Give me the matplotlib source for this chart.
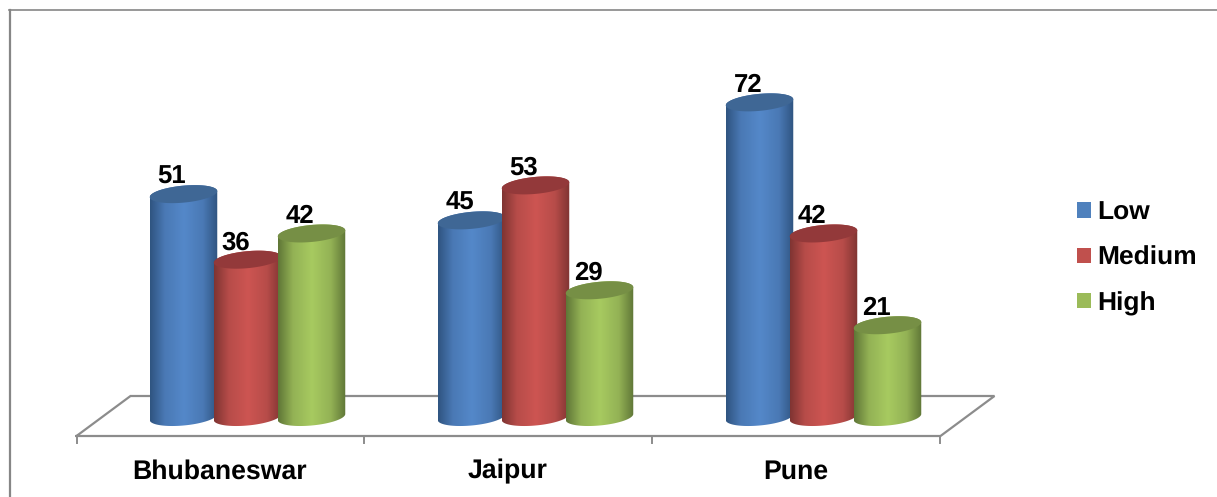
import matplotlib
matplotlib.use('Agg')
import matplotlib.pyplot as plt
import numpy as np
from matplotlib.colors import LinearSegmentedColormap
from matplotlib.patches import PathPatch, Patch
from matplotlib.path import Path
from matplotlib.lines import Line2D

plt.rcParams['font.family'] = ['Liberation Sans', 'DejaVu Sans']
plt.rcParams['text.hinting'] = 'no_hinting'

cities = ['Bhubaneswar', 'Jaipur', 'Pune']
series_names = ['Low', 'Medium', 'High']
low = [51, 45, 72]
medium = [36, 53, 42]
high = [42, 29, 21]

# edge shade, middle shade, lid shade, legend colour
shades = {
    'Low': ('#2f5480', '#5488c9', '#3f6795', '#4f81bd'),
    'Medium': ('#7f3432', '#cd5552', '#93393a', '#c0504d'),
    'High': ('#5f7637', '#a7ca60', '#768f45', '#9bbb59'),
}

W, H = 1217, 497
PX_GROUP = 288.0   # pixels per category
PX_VALUE = 4.37    # pixels per value unit
BAR_STEP = 64.0 / PX_GROUP
BAR_W = 67.5 / PX_GROUP
RY = 8.5 / PX_VALUE
TILT = 3.0 / PX_VALUE   # the lids lean up to the right
DEPTH_X = 54.0 / PX_GROUP
FLOOR_FRONT = -19.0 / PX_VALUE
FLOOR_BACK = 21.0 / PX_VALUE

fig = plt.figure(figsize=(W / 100, H / 100), dpi=100)
ax = fig.add_axes([0, 0, 1, 1])
ax.set_xlim(-247.5 / PX_GROUP, (W - 247.5) / PX_GROUP)
ax.set_ylim((417 - H) / PX_VALUE, 417 / PX_VALUE)
ax.axis('off')


def blend(a, b, f=0.72):
    ca = np.array(matplotlib.colors.to_rgb(a))
    cb = np.array(matplotlib.colors.to_rgb(b))
    return matplotlib.colors.to_hex(ca + (cb - ca) * f)


def rim(cx, cy, t):
    c = np.cos(t)
    return cx + BAR_W / 2 * c, cy + RY * np.sin(t) + TILT * c


def shaded(path, x0, x1, y0, y1, cmap, zorder):
    # horizontal gradient image clipped to the outline
    grad = np.linspace(0, 1, 256).reshape(1, -1)
    im = ax.imshow(grad, cmap=cmap, extent=(x0, x1, y0, y1), aspect='auto',
                   interpolation='bilinear', zorder=zorder)
    im.set_clip_path(PathPatch(path, transform=ax.transData))


def cylinder(cx, value, name, zorder):
    edge, mid, lid, _ = shades[name]
    cmap = LinearSegmentedColormap.from_list(
        name, [(0, edge), (0.22, blend(edge, mid)), (0.5, mid),
               (0.78, blend(edge, mid)), (1, edge)])
    x0, x1 = cx - BAR_W / 2, cx + BAR_W / 2

    front = np.linspace(np.pi, 2 * np.pi, 60)
    back = np.linspace(0, np.pi, 60)
    bx, by = rim(cx, 0, front)
    tx, ty = rim(cx, value, back)
    xs = np.r_[bx, tx, bx[0]]
    ys = np.r_[by, ty, by[0]]
    body = Path(np.c_[xs, ys])
    shaded(body, x0, x1, -RY - TILT, value + RY + TILT, cmap, zorder)

    all_t = np.linspace(0, 2 * np.pi, 120)
    lx, ly = rim(cx, value, all_t)
    ax.fill(lx, ly, color=lid, lw=0, zorder=zorder + 0.1)


# floor of the chart, drawn first so the cylinders stand on it
grey = '#8c8c8c'
n = len(cities)
fx0 = -0.5 - DEPTH_X / 2
fx1 = n - 0.5 - DEPTH_X / 2
ax.plot([fx0, fx1, fx1 + DEPTH_X, fx0 + DEPTH_X, fx0],
        [FLOOR_FRONT, FLOOR_FRONT, FLOOR_BACK, FLOOR_BACK, FLOOR_FRONT],
        color=grey, lw=1.6, zorder=1, solid_joinstyle='miter')
for i in range(n + 1):
    ax.plot([fx0 + i, fx0 + i], [FLOOR_FRONT, FLOOR_FRONT - 6.5 / PX_VALUE],
            color=grey, lw=1.4, zorder=1)

values = [low, medium, high]
z = 2
for i, city in enumerate(cities):
    for j, name in enumerate(series_names):
        cx = i + (j - 1) * BAR_STEP
        v = values[j][i]
        cylinder(cx, v, name, z)
        z += 1
        ax.annotate(str(v), (cx, v), xytext=(-11.5 * 0.72, 5 * 0.72),
                    textcoords='offset points', ha='center', va='bottom',
                    fontsize=18.5, fontweight='bold', color='black', zorder=50)
    ax.text(i - DEPTH_X / 2 - 1 / PX_GROUP, FLOOR_FRONT - 35.5 / PX_VALUE, city,
            ha='center', va='center',
            fontsize=19.2, fontweight='bold', color='black', zorder=50)

handles = [Patch(facecolor=shades[s][3], edgecolor='none') for s in series_names]
fig.legend(handles, series_names, loc='center left',
           bbox_to_anchor=(1077 / W, 1 - 258 / H), frameon=False,
           prop={'size': 19, 'weight': 'bold'},
           handlelength=0.53, handleheight=0.53, handletextpad=0.22,
           labelspacing=0.8, borderpad=0, borderaxespad=0)

# chart frame, only the top and left sides show
fig.add_artist(Line2D([10 / W, 10 / W], [0, 1 - 9.5 / H], color='#868686', lw=1.6))
fig.add_artist(Line2D([9 / W, 1], [1 - 9.5 / H, 1 - 9.5 / H], color='#868686', lw=1.2))

fig.savefig('out.png', dpi=100)
